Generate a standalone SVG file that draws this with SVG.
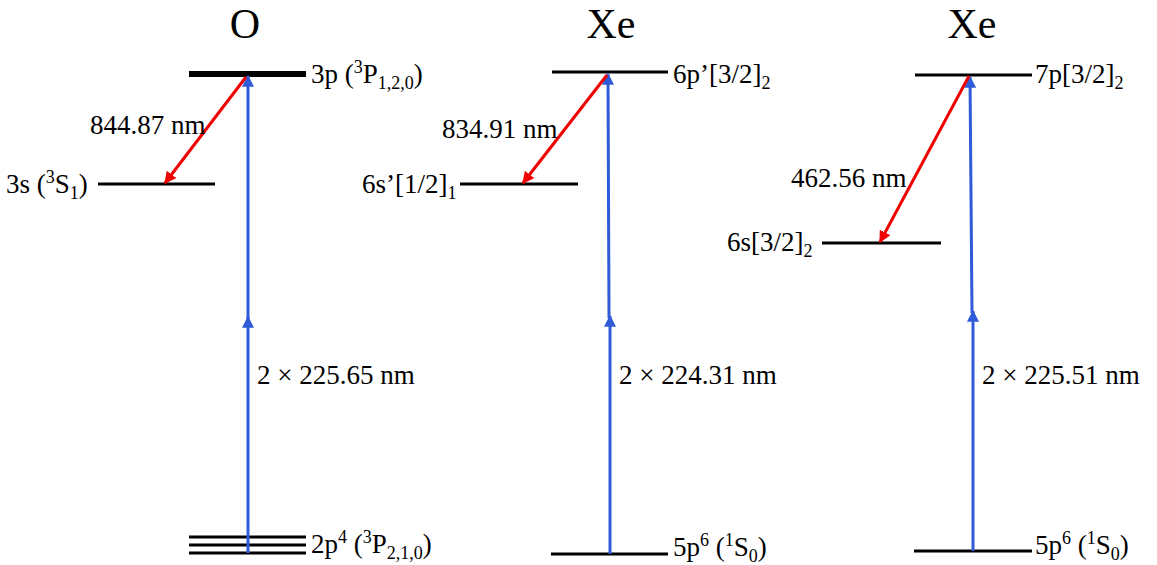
<svg xmlns="http://www.w3.org/2000/svg" width="1157" height="565" viewBox="0 0 1157 565">
<style>
text{font-family:"Liberation Serif","DejaVu Serif",serif;fill:#000}
.lbl{font-size:27px}
.title{font-size:42px;text-anchor:middle}
.lvl{stroke:#000;stroke-width:3;fill:none}
.blue{stroke:#2f5bd8;stroke-width:3;fill:none}
.red{stroke:#f00000;stroke-width:3;fill:none}
.sm{font-size:18px}
</style>
<defs>
<marker id="hb" viewBox="0 0 10 10" refX="9" refY="5" markerWidth="4" markerHeight="4" orient="auto" markerUnits="strokeWidth"><path d="M0,0L10,5L0,10z" fill="#2f5bd8"/></marker>
<marker id="hr" viewBox="0 0 10 10" refX="9" refY="5" markerWidth="4" markerHeight="4" orient="auto" markerUnits="strokeWidth"><path d="M0,0L10,5L0,10z" fill="#f00000"/></marker>
</defs>
<rect width="1157" height="565" fill="#fff"/>

<g id="titles">
<text class="title" x="245" y="38">O</text>
<text class="title" x="611" y="38">Xe</text>
<text class="title" x="972" y="38">Xe</text>
</g>

<g id="O-3p">
<line x1="189" y1="74" x2="306" y2="74" stroke="#000" stroke-width="6"/>
<text class="lbl" x="311" y="83">3p (<tspan class="sm" dy="-10">3</tspan><tspan dy="10">P</tspan><tspan class="sm" dy="6">1,2,0</tspan><tspan dy="-6">)</tspan></text>
</g>
<g id="O-3s">
<line class="lvl" x1="98" y1="184" x2="215" y2="184"/>
<text class="lbl" x="6" y="193">3s (<tspan class="sm" dy="-10">3</tspan><tspan dy="10">S</tspan><tspan class="sm" dy="6">1</tspan><tspan dy="-6">)</tspan></text>
</g>
<g id="O-2p4">
<line class="lvl" x1="189" y1="537" x2="306" y2="537"/>
<line class="lvl" x1="189" y1="545" x2="306" y2="545"/>
<line class="lvl" x1="189" y1="553" x2="306" y2="553"/>
<text class="lbl" x="311" y="553">2p<tspan class="sm" dy="-10">4</tspan><tspan dy="10"> (</tspan><tspan class="sm" dy="-10">3</tspan><tspan dy="10">P</tspan><tspan class="sm" dy="6">2,1,0</tspan><tspan dy="-6">)</tspan></text>
</g>

<g id="Xe1-6p">
<line class="lvl" x1="552" y1="72" x2="668" y2="72"/>
<text class="lbl" x="673" y="83">6p’[3/2]<tspan class="sm" dy="6">2</tspan></text>
</g>
<g id="Xe1-6s">
<line class="lvl" x1="460" y1="184" x2="578" y2="184"/>
<text class="lbl" x="362" y="193">6s’[1/2]<tspan class="sm" dy="6">1</tspan></text>
</g>
<g id="Xe1-5p6">
<line class="lvl" x1="551" y1="554" x2="668" y2="554"/>
<text class="lbl" x="673" y="556">5p<tspan class="sm" dy="-10">6</tspan><tspan dy="10"> (</tspan><tspan class="sm" dy="-10">1</tspan><tspan dy="10">S</tspan><tspan class="sm" dy="6">0</tspan><tspan dy="-6">)</tspan></text>
</g>

<g id="Xe2-7p">
<line class="lvl" x1="915" y1="75" x2="1032" y2="75"/>
<text class="lbl" x="1035" y="83">7p[3/2]<tspan class="sm" dy="6">2</tspan></text>
</g>
<g id="Xe2-6s">
<line class="lvl" x1="822" y1="243" x2="941" y2="243"/>
<text class="lbl" x="727" y="251">6s[3/2]<tspan class="sm" dy="6">2</tspan></text>
</g>
<g id="Xe2-5p6">
<line class="lvl" x1="914" y1="551" x2="1032" y2="551"/>
<text class="lbl" x="1035" y="554">5p<tspan class="sm" dy="-10">6</tspan><tspan dy="10"> (</tspan><tspan class="sm" dy="-10">1</tspan><tspan dy="10">S</tspan><tspan class="sm" dy="6">0</tspan><tspan dy="-6">)</tspan></text>
</g>

<g id="connectors">
<line class="blue" x1="248" y1="553" x2="248" y2="317" marker-end="url(#hb)"/>
<line class="blue" x1="248" y1="318" x2="248" y2="76" marker-end="url(#hb)"/>
<line class="red" x1="246" y1="77" x2="165" y2="183" marker-end="url(#hr)"/>
<line class="blue" x1="610" y1="554" x2="610" y2="316" marker-end="url(#hb)"/>
<line class="blue" x1="609" y1="318" x2="608" y2="74" marker-end="url(#hb)"/>
<line class="red" x1="607" y1="75" x2="523" y2="183" marker-end="url(#hr)"/>
<line class="blue" x1="973" y1="551" x2="973" y2="311" marker-end="url(#hb)"/>
<line class="blue" x1="972" y1="313" x2="970" y2="77" marker-end="url(#hb)"/>
<line class="red" x1="969" y1="76" x2="880" y2="242" marker-end="url(#hr)"/>
</g>

<g id="labels">
<text class="lbl" x="90" y="134">844.87 nm</text>
<text class="lbl" x="442" y="138">834.91 nm</text>
<text class="lbl" x="791" y="187">462.56 nm</text>
<text class="lbl" x="257" y="384">2 × 225.65 nm</text>
<text class="lbl" x="619" y="384">2 × 224.31 nm</text>
<text class="lbl" x="982" y="384">2 × 225.51 nm</text>
</g>
</svg>
